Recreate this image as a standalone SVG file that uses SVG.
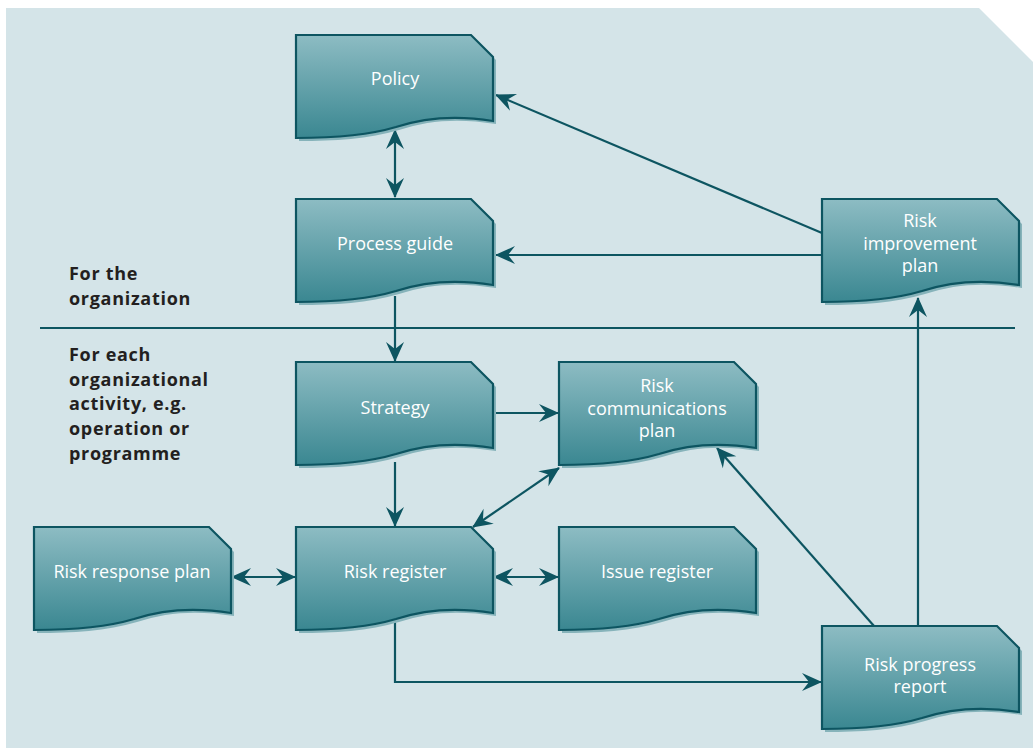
<svg xmlns="http://www.w3.org/2000/svg" width="1033" height="748" viewBox="0 0 1033 748">
<style>
.bg{fill:#d4e4e8}
.doc{fill:url(#g);stroke:#0d5561;stroke-width:2.2;stroke-linejoin:miter}
.sh{fill:#86b3ba}
.t{font-family:"Open Sans","Noto Sans",sans-serif;font-size:18px;fill:#ffffff;text-anchor:middle}
.lbl{font-family:"Open Sans","Noto Sans",sans-serif;font-size:18px;letter-spacing:0.7px;font-weight:bold;fill:#231f20}
.c{fill:none;stroke:#0d5561;stroke-width:2.2}
</style>
<defs>
<linearGradient id="g" x1="0" y1="0" x2="0" y2="1">
<stop offset="0" stop-color="#8dbcc3"/>
<stop offset="1" stop-color="#3a8791"/>
</linearGradient>
<path id="d" d="M0,0 H175 L197,22 V86 C160,80 130,82 100,92 C70,101 35,103 0,103 Z"/>
<marker id="a" viewBox="-20 -10 22 20" refX="0" refY="0" markerWidth="22" markerHeight="20" markerUnits="userSpaceOnUse" orient="auto-start-reverse">
<path d="M1,0 L-19,-9 L-12,0 L-19,9 Z" fill="#0d5561"/>
</marker>
</defs>
<path class="bg" d="M6,8 H979 L1033,62 V748 H6 Z"/>
<line x1="40" y1="328" x2="1015" y2="328" stroke="#0d5561" stroke-width="2.2"/>
<g id="labels">
<text class="lbl" x="69" y="280">For the</text>
<text class="lbl" x="69" y="305">organization</text>
<text class="lbl" x="69" y="361">For each</text>
<text class="lbl" x="69" y="386">organizational</text>
<text class="lbl" x="69" y="410">activity, e.g.</text>
<text class="lbl" x="69" y="435">operation or</text>
<text class="lbl" x="69" y="460">programme</text>
</g>
<g id="connectors">
<line class="c" x1="395" y1="130" x2="395" y2="197" marker-start="url(#a)" marker-end="url(#a)"/>
<line class="c" x1="822" y1="233" x2="496" y2="95" marker-end="url(#a)"/>
<line class="c" x1="822" y1="255" x2="496" y2="255" marker-end="url(#a)"/>
<line class="c" x1="395" y1="296" x2="395" y2="361" marker-end="url(#a)"/>
<line class="c" x1="493" y1="413" x2="558" y2="413" marker-end="url(#a)"/>
<line class="c" x1="395" y1="462" x2="395" y2="526" marker-end="url(#a)"/>
<line class="c" x1="473" y1="527" x2="559" y2="468" marker-start="url(#a)" marker-end="url(#a)"/>
<line class="c" x1="232" y1="577" x2="295" y2="577" marker-start="url(#a)" marker-end="url(#a)"/>
<line class="c" x1="494" y1="577" x2="558" y2="577" marker-start="url(#a)" marker-end="url(#a)"/>
<polyline class="c" points="395,622 395,682 821,682" marker-end="url(#a)"/>
<line class="c" x1="874" y1="626" x2="717" y2="448" marker-end="url(#a)"/>
<line class="c" x1="918" y1="626" x2="918" y2="298" marker-end="url(#a)"/>
</g>
<g id="policy" transform="translate(296,35)">
<use href="#d" class="sh" x="3" y="3"/><use href="#d" class="doc"/>
<text class="t" x="99" y="50">Policy</text>
</g>
<g id="process-guide" transform="translate(296,199)">
<use href="#d" class="sh" x="3" y="3"/><use href="#d" class="doc"/>
<text class="t" x="99" y="51">Process guide</text>
</g>
<g id="strategy" transform="translate(296,362)">
<use href="#d" class="sh" x="3" y="3"/><use href="#d" class="doc"/>
<text class="t" x="99" y="52">Strategy</text>
</g>
<g id="risk-register" transform="translate(296,527)">
<use href="#d" class="sh" x="3" y="3"/><use href="#d" class="doc"/>
<text class="t" x="99" y="51">Risk register</text>
</g>
<g id="risk-response-plan" transform="translate(34,527)">
<use href="#d" class="sh" x="3" y="3"/><use href="#d" class="doc"/>
<text class="t" x="98" y="51">Risk response plan</text>
</g>
<g id="issue-register" transform="translate(559,527)">
<use href="#d" class="sh" x="3" y="3"/><use href="#d" class="doc"/>
<text class="t" x="98" y="51">Issue register</text>
</g>
<g id="risk-communications-plan" transform="translate(559,362)">
<use href="#d" class="sh" x="3" y="3"/><use href="#d" class="doc"/>
<text class="t" x="98" y="30">Risk</text>
<text class="t" x="98" y="53">communications</text>
<text class="t" x="98" y="75">plan</text>
</g>
<g id="risk-improvement-plan" transform="translate(822,199)">
<use href="#d" class="sh" x="3" y="3"/><use href="#d" class="doc"/>
<text class="t" x="98" y="28">Risk</text>
<text class="t" x="98" y="51">improvement</text>
<text class="t" x="98" y="73">plan</text>
</g>
<g id="risk-progress-report" transform="translate(822,626)">
<use href="#d" class="sh" x="3" y="3"/><use href="#d" class="doc"/>
<text class="t" x="98" y="45">Risk progress</text>
<text class="t" x="98" y="67">report</text>
</g>
</svg>
